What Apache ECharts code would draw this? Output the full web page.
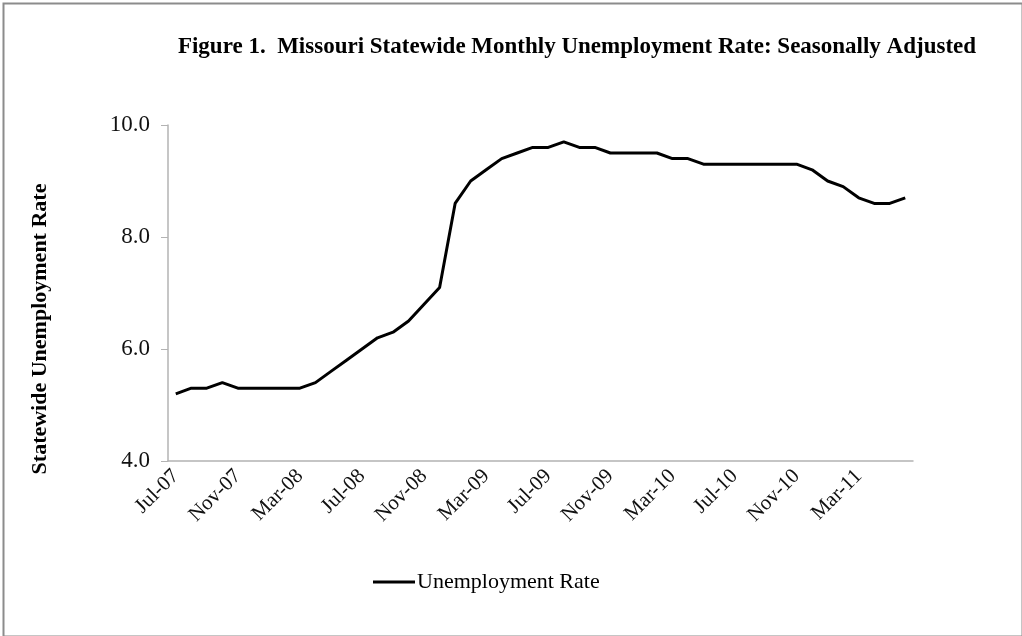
<!DOCTYPE html>
<html>
<head>
<meta charset="utf-8">
<script src="https://cdn.jsdelivr.net/npm/echarts@6/dist/echarts.min.js"></script>
<style>
html,body{margin:0;padding:0;background:#fff;}
#c{width:1022px;height:636px;}
</style>
</head>
<body>
<div id="c"></div>
<script>
const titleText = "Figure 1.  Missouri Statewide Monthly Unemployment Rate: Seasonally Adjusted";
const yAxisName = "Statewide Unemployment Rate";
const seriesName = "Unemployment Rate";
const categories = [
  "Jul-07","Aug-07","Sep-07","Oct-07","Nov-07","Dec-07",
  "Jan-08","Feb-08","Mar-08","Apr-08","May-08","Jun-08","Jul-08","Aug-08","Sep-08","Oct-08","Nov-08","Dec-08",
  "Jan-09","Feb-09","Mar-09","Apr-09","May-09","Jun-09","Jul-09","Aug-09","Sep-09","Oct-09","Nov-09","Dec-09",
  "Jan-10","Feb-10","Mar-10","Apr-10","May-10","Jun-10","Jul-10","Aug-10","Sep-10","Oct-10","Nov-10","Dec-10",
  "Jan-11","Feb-11","Mar-11","Apr-11","May-11","Jun-11"
];
const rates = [
  5.2,5.3,5.3,5.4,5.3,5.3,
  5.3,5.3,5.3,5.4,5.6,5.8,6.0,6.2,6.3,6.5,6.8,7.1,
  8.6,9.0,9.2,9.4,9.5,9.6,9.6,9.7,9.6,9.6,9.5,9.5,
  9.5,9.5,9.4,9.4,9.3,9.3,9.3,9.3,9.3,9.3,9.3,9.2,
  9.0,8.9,8.7,8.6,8.6,8.7
];
const yTicks = {min: 4, max: 10, interval: 2};

const chart = echarts.init(document.getElementById('c'), null, {renderer: 'canvas'});
const serif = "'Liberation Serif', 'DejaVu Serif', serif";
chart.setOption({
  backgroundColor: '#fff',
  animation: false,
  graphic: [{
    type: 'rect', left: 1, top: 1,
    shape: {width: 1019, height: 633},
    style: {fill: 'none', stroke: '#8c8c8c', lineWidth: 2}
  }, {
    type: 'text',
    x: 40, y: 329, rotation: Math.PI / 2,
    style: {
      text: yAxisName, fontFamily: serif, fontWeight: 'bold', fontSize: 22,
      fill: '#000', align: 'center', verticalAlign: 'middle'
    }
  }],
  title: {
    text: titleText,
    left: 572, top: 31, textAlign: 'center',
    textStyle: {fontFamily: serif, fontWeight: 'bold', fontSize: 23, color: '#000'}
  },
  legend: {
    data: [seriesName],
    left: 368, top: 566,
    itemWidth: 42, itemHeight: 14, itemGap: 4,
    icon: 'path://M0,6 L42,6 L42,9 L0,9 Z',
    textStyle: {fontFamily: serif, fontSize: 22, color: '#000', padding: [0,0,0,-3]}
  },
  grid: {left: 168, right: 109, top: 125, bottom: 175, containLabel: false},
  xAxis: {
    type: 'category',
    data: categories,
    boundaryGap: true,
    axisLine: {lineStyle: {color: '#b3b3b3', width: 1.5}},
    axisTick: {show: false},
    axisLabel: {
      interval: 3, rotate: 45, margin: 12,
      fontFamily: serif, fontSize: 21, color: '#111'
    },
    splitLine: {show: false}
  },
  yAxis: {
    type: 'value',
    min: yTicks.min, max: yTicks.max, interval: yTicks.interval,
    axisLine: {show: true, lineStyle: {color: '#b3b3b3', width: 1.5}},
    axisTick: {show: true, length: 7, lineStyle: {color: '#b3b3b3'}},
    axisLabel: {
      margin: 18,
      fontFamily: serif, fontSize: 23, color: '#111',
      formatter: v => v.toFixed(1)
    },
    splitLine: {show: false}
  },
  series: [{
    name: seriesName,
    type: 'line',
    data: rates,
    showSymbol: false,
    symbol: 'none',
    lineStyle: {color: '#000', width: 3},
    itemStyle: {color: '#000'}
  }]
});
</script>
</body>
</html>
